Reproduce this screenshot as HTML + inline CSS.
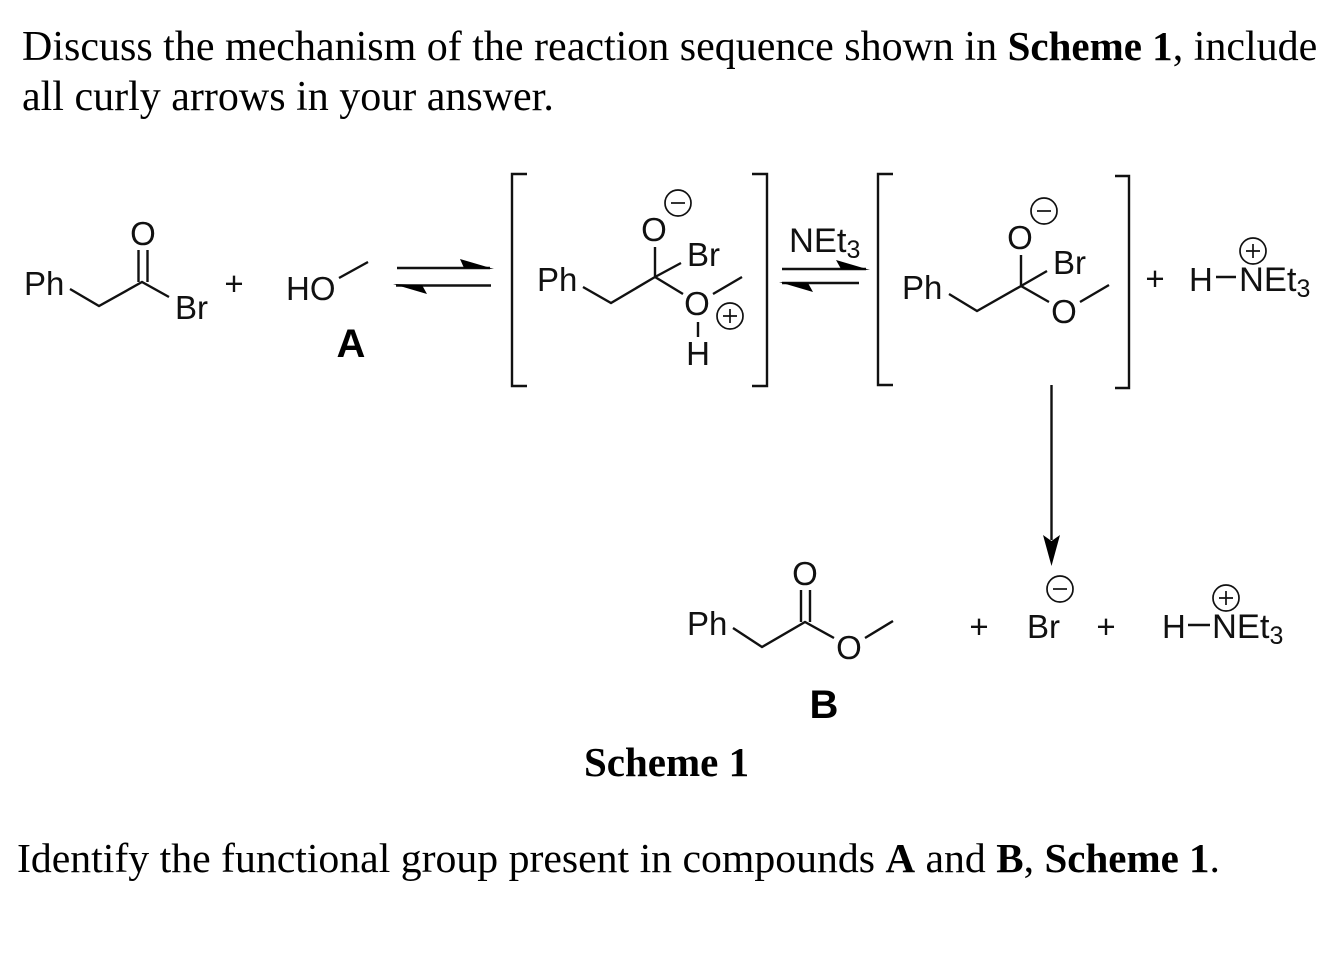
<!DOCTYPE html>
<html><head><meta charset="utf-8"><style>
html,body{margin:0;padding:0;background:#fff}
svg{display:block}
.s{font-family:"Liberation Serif",serif;font-size:42px;fill:#000}
.b{font-weight:bold;font-size:41px}
.a{font-family:"Liberation Sans",sans-serif;font-size:33px;fill:#111}
.n{font-size:34.5px}
.l{font-family:"Liberation Sans",sans-serif;font-size:40px;font-weight:bold;fill:#000;text-anchor:middle}
.m{text-anchor:middle}
path,line{fill:none;stroke:#111;stroke-width:2.4}
circle{fill:none;stroke:#111;stroke-width:1.7}
polygon{fill:#000;stroke:none}
.t{stroke-width:1.7}
</style></head><body>
<svg width="1339" height="975" viewBox="0 0 1339 975" xmlns="http://www.w3.org/2000/svg">
<text class="s" x="22" y="60">Discuss the mechanism of the reaction sequence shown in <tspan class="b">Scheme 1</tspan>, include</text>
<text class="s" x="22" y="110">all curly arrows in your answer.</text>
<text class="s b" x="584" y="776">Scheme 1</text>
<text class="s" style="font-size:41.75px" x="17" y="872">Identify the functional group present in compounds <tspan class="b">A</tspan> and <tspan class="b">B</tspan>, <tspan class="b">Scheme 1</tspan>.</text>

<!-- Acid bromide -->
<text class="a" x="24" y="295">Ph</text>
<path d="M70 289L99 306L142 282L169 297"/>
<path d="M138.5 282V250M147.5 282V250"/>
<text class="a m" x="143" y="245">O</text>
<text class="a" x="175" y="319">Br</text>
<text class="a m" x="234" y="295">+</text>
<text class="a" x="286" y="300">HO</text>
<path d="M339 278L368 262"/>
<text class="l" x="351" y="357">A</text>

<!-- equilibrium 1 -->
<line x1="397" y1="268" x2="490" y2="268"/>
<polygon points="494,269 460,259 464,268"/>
<line x1="396" y1="285.5" x2="491" y2="285.5"/>
<polygon points="393,284 427,294 422,285"/>

<!-- bracket 1 -->
<path d="M527 174H512V386H527"/>
<path d="M752 174H767V386H752"/>
<text class="a" x="537" y="291">Ph</text>
<path d="M583 287L611 303L655 277V247M655 277L681 263M655 277L683 294M713 294L742 277M698 322V337"/>
<text class="a m" x="654" y="241">O</text>
<circle cx="678" cy="203" r="13"/><path class="t" d="M671 203H685"/>
<text class="a" x="687" y="266">Br</text>
<text class="a m" x="697" y="315">O</text>
<circle cx="730" cy="316" r="13"/><path class="t" d="M723 316H737M730 309V323"/>
<text class="a m" x="698" y="365">H</text>

<!-- equilibrium 2 -->
<text class="a n" x="789" y="252">NEt<tspan font-size="25" dy="6">3</tspan></text>
<line x1="782" y1="269" x2="866" y2="269"/>
<polygon points="870,270 836,260 841,269"/>
<line x1="782" y1="283" x2="859" y2="283"/>
<polygon points="779,282 813,292 808,283"/>

<!-- bracket 2 -->
<path d="M893 174H878V385H893"/>
<path d="M1115 176H1129V388H1115"/>
<text class="a" x="902" y="299">Ph</text>
<path d="M949 294L977 311L1021 286V255M1021 286L1047 271M1021 286L1049 302M1080 302L1109 285"/>
<text class="a m" x="1020" y="249">O</text>
<circle cx="1044" cy="211" r="13"/><path class="t" d="M1037 211H1051"/>
<text class="a" x="1053" y="274">Br</text>
<text class="a m" x="1064" y="323">O</text>
<text class="a m" x="1155" y="290">+</text>
<text class="a" x="1189" y="291">H</text>
<path d="M1216 277H1236"/>
<text class="a n" x="1239" y="291">NEt<tspan font-size="25" dy="6">3</tspan></text>
<circle cx="1253" cy="251" r="13"/><path class="t" d="M1246 251H1260M1253 244V258"/>

<!-- down arrow -->
<line x1="1051.5" y1="385" x2="1051.5" y2="540"/>
<polygon points="1051.5,566 1043,535 1051.5,541 1060,535"/>

<!-- Products -->
<text class="a" x="687" y="635">Ph</text>
<path d="M733 628L762 647L805 622L834 638M865 638L893 621"/>
<path d="M801 622V590M810 622V590"/>
<text class="a m" x="805" y="585">O</text>
<text class="a m" x="849" y="659">O</text>
<text class="l" x="824" y="718">B</text>
<text class="a m" x="979" y="638">+</text>
<text class="a" x="1027" y="638">Br</text>
<circle cx="1060" cy="589" r="13"/><path class="t" d="M1053 589H1067"/>
<text class="a m" x="1106" y="638">+</text>
<text class="a" x="1162" y="638">H</text>
<path d="M1188 625H1210"/>
<text class="a n" x="1212" y="638">NEt<tspan font-size="25" dy="6">3</tspan></text>
<circle cx="1226" cy="598" r="13"/><path class="t" d="M1219 598H1233M1226 591V605"/>
</svg>
</body></html>
